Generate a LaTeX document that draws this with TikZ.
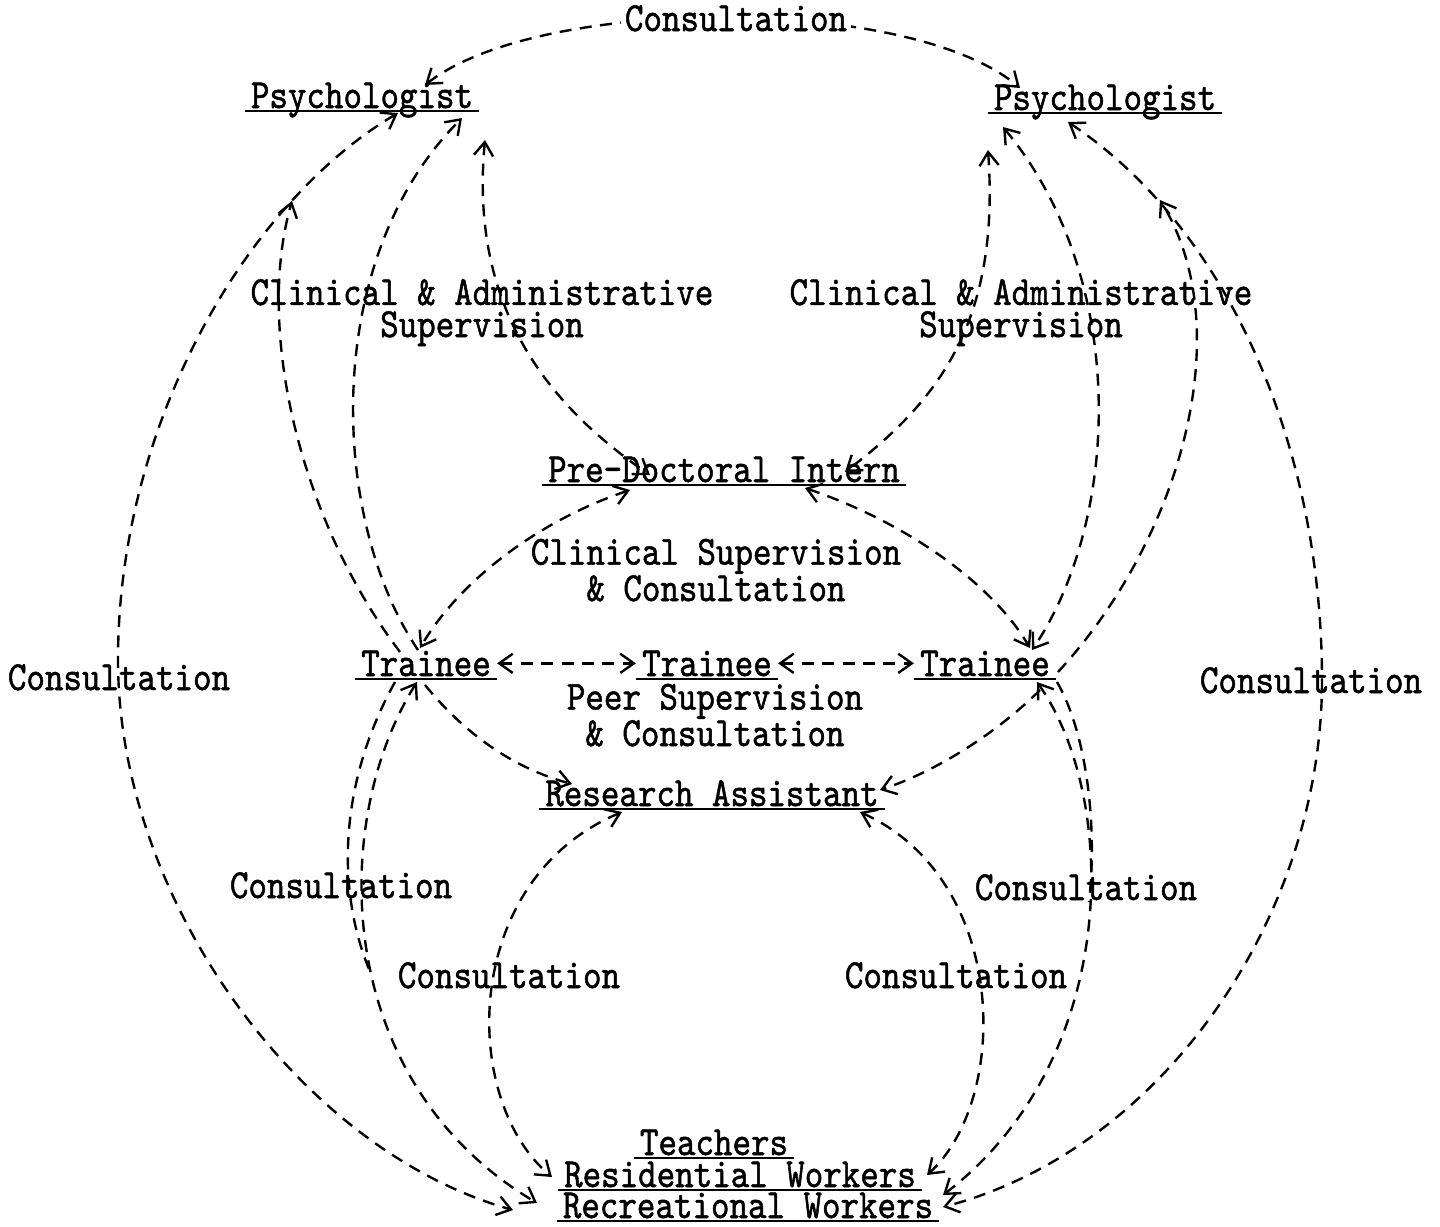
\documentclass[tikz,border=0pt]{standalone}
\usepackage{fontspec}
\usetikzlibrary{arrows.meta,calc}
\newfontfamily\twbase{lmmono10-regular.otf}[FakeStretch=0.85,FakeBold=1.2]
\newcommand{\twfont}{\twbase\fontsize{29.5}{22.8}\selectfont}
\tikzset{
  tyline/.style={solid,line width=1.3pt},
  who/.style={font=\twfont,anchor=base,inner xsep=0.15cm,inner ysep=0.07cm,text depth=0pt,
    append after command={(\tikzlastnode.south west) edge[tyline] (\tikzlastnode.south east)}},
  what/.style={font=\twfont,anchor=base,inner sep=0pt,align=center},
  link/.style={line width=1.7pt,dash pattern=on 3mm off 2.1mm},
  both/.style={link,<->},
  one/.style={link,->},
}
\begin{document}
\begin{tikzpicture}[x=0.025cm,y=0.025cm,>={Straight Barb[length=3.4mm,width=4.8mm]}]
\useasboundingbox (0,0) rectangle (1440,-1226);
% ---- the people, underlined as typed
\node[who] (psyL) at (362,-108) {Psychologist};
\node[who] (psyR) at (1105,-110) {Psychologist};
\node[who] (intern) at (724,-482) {Pre-Doctoral Intern};
\node[who] (trL) at (426,-676) {Trainee};
\node[who] (trM) at (707,-676) {Trainee};
\node[who] (trR) at (985,-676) {Trainee};
\node[who] (ra) at (712,-806) {Research Assistant};
\node[who] (teach) at (714,-1155) {Teachers};
\node[who] (resw) at (740,-1187) {Residential Workers};
\node[who] (recw) at (748,-1218) {Recreational Workers};
% ---- where two lines run into the outer arcs
\coordinate (aHook) at (292,-201);
\coordinate (hHook) at (1160,-200);
\coordinate (jMerge) at (372,-976);
\coordinate (iMerge) at (1089,-902);
% ---- psychologists: consultation over the top and round the outside
\draw[both] ($(psyL.base)+(63,23)$) .. controls (540,5) and (910,5) .. ($(psyR.base)+(-85,22)$);
\node[what,fill=white,inner xsep=3pt,inner ysep=0pt] (topC) at (736,-31) {Consultation};
\draw[both] ($(psyL.base)+(36,-5)$) .. controls (250,-200) and (118,-420) .. (118,-660)
  .. controls (118,-900) and (300,-1150) .. ($(recw.base)+(-235,8)$);
\draw[both] ($(psyR.base)+(-37,-12)$) .. controls (1230,-230) and (1322,-450) .. (1322,-680)
  .. controls (1322,-920) and (1160,-1150) .. ($(recw.base)+(195,11)$);
% ---- supervision from the psychologists
\draw[one] ($(trL.base)+(-26,24)$) .. controls (300,-520) and (255,-330) .. (aHook);
\draw[one] ($(trL.base)+(-8,26)$) .. controls (330,-520) and (320,-260) .. ($(psyL.base)+(100,-10)$);
\draw[both] ($(psyL.base)+(123,-32)$) .. controls (470,-300) and (540,-400) .. ($(intern.base)+(-74,7)$);
\draw[both] ($(psyR.base)+(-117,-40)$) .. controls (1000,-320) and (940,-400) .. ($(intern.base)+(121,10)$);
\draw[both] ($(psyR.base)+(-102,-17)$) .. controls (1130,-280) and (1120,-520) .. ($(trR.base)+(47,26)$);
\draw[one] ($(trR.base)+(73,4)$) .. controls (1180,-540) and (1240,-330) .. (hHook);
% ---- intern and trainees
\draw[both] ($(intern.base)+(-94,-8)$) .. controls (540,-520) and (460,-580) .. ($(trL.base)+(-6,28)$);
\draw[both] ($(intern.base)+(81,-6)$) .. controls (900,-520) and (990,-580) .. ($(trR.base)+(45,28)$);
\draw[both] (trL.east) -- (trM.west);
\draw[both] (trM.east) -- (trR.west);
\draw[one] ($(trL.base)+(-1,-9)$) .. controls (470,-740) and (520,-770) .. ($(ra.base)+(-140,22)$);
\draw[one] ($(trR.base)+(55,-14)$) .. controls (1000,-730) and (940,-770) .. ($(ra.base)+(168,16)$);
% ---- down to the workers
\draw[both] ($(ra.base)+(-90,-6)$) .. controls (460,-880) and (460,-1100) .. ($(resw.base)+(-188,10)$);
\draw[both] ($(ra.base)+(148,-6)$) .. controls (1010,-880) and (1010,-1100) .. ($(resw.base)+(187,12)$);
\draw[both] ($(trL.base)+(-9,-6)$) .. controls (330,-820) and (330,-1080) .. ($(recw.base)+(-211,15)$);
\draw[link] ($(trL.base)+(-31,-6)$) .. controls (335,-790) and (338,-900) .. (jMerge);
\draw[both] ($(trR.base)+(52,-6)$) .. controls (1120,-800) and (1120,-1060) .. ($(recw.base)+(195,23)$);
\draw[link] ($(trR.base)+(72,-6)$) .. controls (1085,-730) and (1098,-820) .. (iMerge);
% ---- labels (base = last line)
\node[what] (supL) at (482,-337) {Clinical \& Administrative\\Supervision};
\node[what] (supR) at (1021,-337) {Clinical \& Administrative\\Supervision};
\node[what] (clinC) at (716,-601) {Clinical Supervision\\\& Consultation};
\node[what] (peerC) at (715,-746) {Peer Supervision\\\& Consultation};
\node[what] (conL) at (119,-690) {Consultation};
\node[what] (conR) at (1311,-693) {Consultation};
\node[what] (conA) at (341,-898) {Consultation};
\node[what] (conB) at (1086,-900) {Consultation};
\node[what] (conC) at (509,-988) {Consultation};
\node[what] (conD) at (956,-988) {Consultation};
\end{tikzpicture}
\end{document}
